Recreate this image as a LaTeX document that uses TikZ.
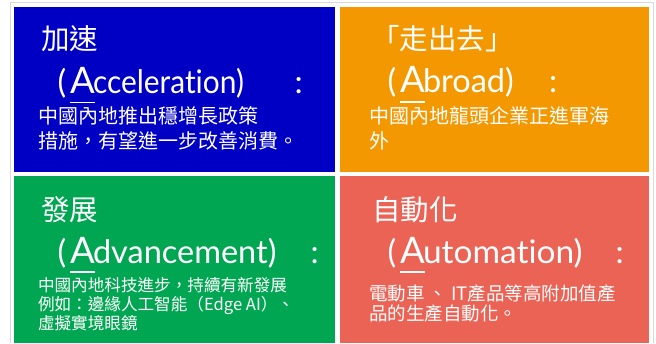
\documentclass[tikz,border=0pt]{standalone}
\usepackage{graphicx}
\usepackage{fontspec}
\setmainfont{Noto Sans CJK TC}
\newfontfamily\latinf[RawFeature={-liga}]{Lato}
\definecolor{qblue}{RGB}{0,0,196}
\definecolor{qorange}{RGB}{243,152,0}
\definecolor{qgreen}{RGB}{0,166,81}
\definecolor{qred}{RGB}{235,99,85}
\begin{document}
\begin{tikzpicture}[x=1pt,y=-1pt,
  every node/.style={inner sep=0pt,outer sep=0pt,text=white,anchor=base west},
  titletxt/.style={font=\fontsize{28.5}{30}\selectfont},
  parentxt/.style={font=\latinf\fontsize{32.5}{36}\selectfont},
  bigA/.style={font=\latinf\fontsize{36.5}{40}\selectfont},
  bodyL/.style={font=\fontsize{20}{24}\selectfont},
  bodyM/.style={font=\fontsize{18.5}{22}\selectfont},
  bodyS/.style={font=\fontsize{16.6}{20}\selectfont},
  uline/.style={white,line width=1.6pt}]
\useasboundingbox (0,0) rectangle (656,343);
\fill[white] (0,0) rectangle (656,343);
\draw[black!15,line width=1pt] (10.5,343) -- (10.5,2.5) -- (653.5,2.5) -- (653.5,343);
% boxes
\fill[qblue] (14,7) rectangle (335,172);
\fill[qorange] (340,7) rectangle (649,172);
\fill[qgreen] (14,176) rectangle (335,343);
\fill[qred] (340,176) rectangle (649,343);
% blue
\node[titletxt] (t1) at (41,49.7) {加速};
\node[parentxt] (p1) at (57.5,93.3) {(};
\node[bigA] (a1) at (70.2,93.3) {A};
\node[parentxt] (r1) at (93,93.3) {\scalebox{0.92}[1]{cceleration)}};
\node[parentxt] (c1) at (294.5,93.3) {:};
\draw[uline] ([yshift=-9.2pt]a1.base west) -- ([yshift=-9.2pt]a1.base east);
\node[bodyL] (b1a) at (38,123.5) {中國內地推出穩增長政策};
\node[bodyL] (b1b) at (38,148) {措施，有望進一步改善消費。};
% orange
\node[titletxt] (t2) at (371,49.7) {「走出去」};
\node[parentxt] (p2) at (387.5,92.7) {(};
\node[bigA] (a2) at (400.2,92.7) {A};
\node[parentxt] (r2) at (423,92.7) {broad)};
\node[parentxt] (c2) at (549,92.7) {:};
\draw[uline] ([yshift=-9.2pt]a2.base west) -- ([yshift=-9.2pt]a2.base east);
\node[bodyL] (b2a) at (369,123) {中國內地龍頭企業正進軍海};
\node[bodyL] (b2b) at (369,148) {外};
% green
\node[titletxt] (t3) at (41,220) {發展};
\node[parentxt] (p3) at (57.5,263) {(};
\node[bigA] (a3) at (70.2,263) {A};
\node[parentxt] (r3) at (93,263) {dvancement)};
\node[parentxt] (c3) at (310.7,263) {:};
\draw[uline] ([yshift=-9.2pt]a3.base west) -- ([yshift=-9.2pt]a3.base east);
\node[bodyS] (b3a) at (38,291.5) {中國內地科技進步，持續有新發展};
\node[bodyS] (b3b) at (38,310.5) {例如：邊緣人工智能（Edge AI）、};
\node[bodyS] (b3c) at (38,329.5) {虛擬實境眼鏡};
% red
\node[titletxt] (t4) at (372,220) {自動化};
\node[parentxt] (p4) at (387.5,263) {(};
\node[bigA] (a4) at (400.2,263) {A};
\node[parentxt] (r4) at (423,263) {\scalebox{1.03}[1]{utomation)}};
\node[parentxt] (c4) at (615.7,263) {:};
\draw[uline] ([yshift=-9.2pt]a4.base west) -- ([yshift=-9.2pt]a4.base east);
\node[bodyM] (b4a) at (369,300.5) {電動車 、 IT產品等高附加值產};
\node[bodyM] (b4b) at (369,320.5) {品的生產自動化。};
\end{tikzpicture}
\end{document}
